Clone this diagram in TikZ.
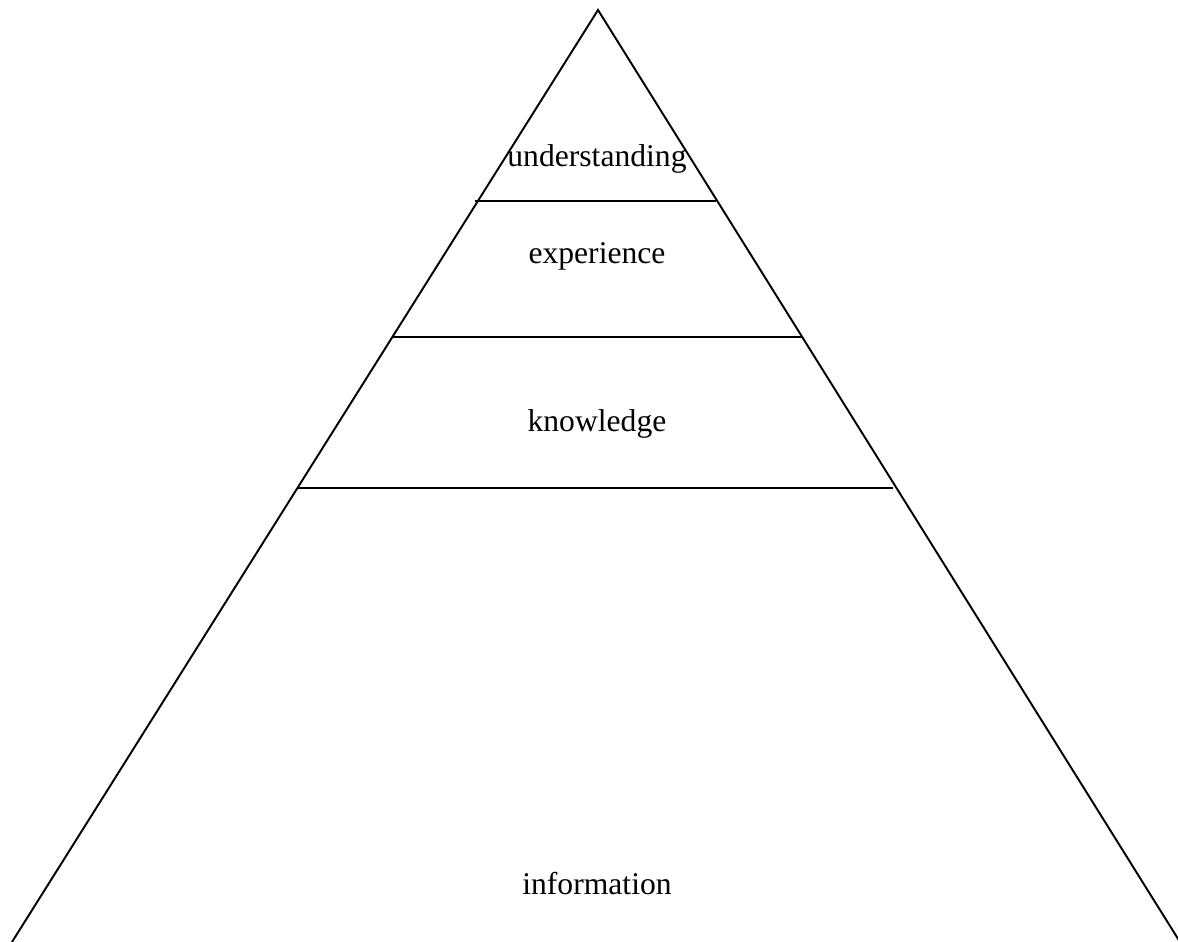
\documentclass[tikz,border=0pt]{standalone}
\usepackage{fontspec}
\setmainfont{Liberation Serif}
\usetikzlibrary{positioning}
\begin{document}
\begin{tikzpicture}[x=0.02cm,y=-0.02cm,lbl/.style={anchor=base,inner sep=0pt,font=\fontsize{18}{20}\selectfont},tier/.style={draw=black,line width=1.1pt}]
	\useasboundingbox (0,0) rectangle (1178,942);
	\begin{scope}
	\clip (0,0) rectangle (1178,942);
	\coordinate (top) at (598,10);
	\coordinate (bl) at (12,942);
	\coordinate (br) at (1180,942);
	\draw[tier] (bl) -- (top) -- (br);
	\end{scope}
	% tiers
	\coordinate (u1) at (475,200.7); \coordinate (u2) at (716,200.7);
	\coordinate (e1) at (392.7,337.3); \coordinate (e2) at (802.7,337.3);
	\coordinate (k1) at (297.3,488.3); \coordinate (k2) at (893.3,488.3);
	\draw[tier] (u1) -- (u2);
	\draw[tier] (e1) -- (e2);
	\draw[tier] (k1) -- (k2);
	\node[lbl] (und) at (597,167) {understanding};
	\node[lbl] (exp) at (597,264) {experience};
	\node[lbl] (knw) at (597,431.7) {knowledge};
	\node[lbl] (inf) at (597,894) {information};
\end{tikzpicture}
\end{document}
